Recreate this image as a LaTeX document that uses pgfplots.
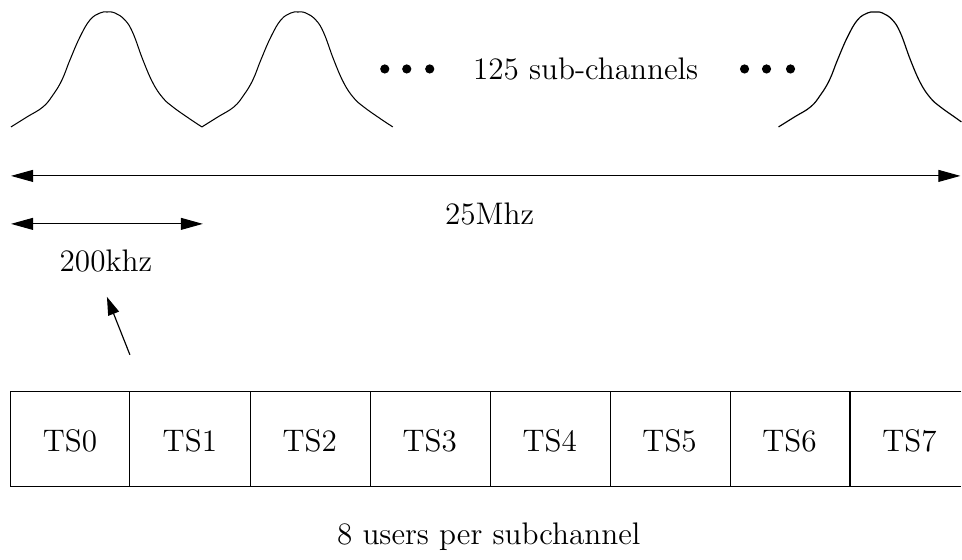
\documentclass[border=0pt]{standalone}
\usepackage{pgfplots}
\pgfplotsset{compat=1.18}
\usetikzlibrary{arrows.meta}
\begin{document}
\begin{tikzpicture}
\begin{axis}[
  scale only axis, width=370pt, height=213.08pt,
  xmin=0, xmax=962, ymin=0, ymax=554, y dir=reverse,
  axis lines=none, clip=false,
  cycle list={{black,solid,mark=none,line width=0.45pt}},
]
\addplot[draw=none] coordinates {(0,0) (962,554)};
% bumps
\addplot+[smooth, tension=0.7] coordinates {(11,127)(27,117)(43,107)(53,95)(62,80)(70,60)(80,37)(90,20)(100,13)(107,12)(115,13)(125,20)(133,33)(143,60)(153,83)(163,98)(173,107)(187,117)(202,127)};
\addplot+[smooth, tension=0.7] coordinates {(202,127)(218,117)(234,107)(244,95)(253,80)(261,60)(271,37)(281,20)(291,13)(298,12)(306,13)(316,20)(324,33)(334,60)(344,83)(354,98)(364,107)(378,117)(393,127)};
\addplot+[smooth, tension=0.7] coordinates {(779,127)(795,117)(811,107)(821,95)(830,80)(838,60)(848,37)(858,20)(868,13)(875,12)(883,13)(893,20)(901,33)(911,60)(921,83)(931,98)(941,107)(955,117)(962,122)};
% dots
\addplot+[only marks, mark=*, mark size=1.55pt, fill=black] coordinates {(385,69)(407,69)(430,69)(745,69)(767,69)(791,69)};
% arrows
\addplot+[{Triangle[length=8.5pt,width=4.6pt]}-{Triangle[length=8.5pt,width=4.6pt]}] coordinates {(11,176)(961,176)};
\addplot+[{Triangle[length=8.5pt,width=4.6pt]}-{Triangle[length=8.5pt,width=4.6pt]}] coordinates {(11,224)(203,224)};
\addplot+[-{Triangle[length=7pt,width=4.4pt]}] coordinates {(130,355)(107,297)};
% time slot boxes
\addplot+[] coordinates {(962,392)(10.5,392)(10.5,487)(962,487)};
\addplot+[] coordinates {(130,392)(130,487)};
\addplot+[] coordinates {(250.5,392)(250.5,487)};
\addplot+[] coordinates {(370.5,392)(370.5,487)};
\addplot+[] coordinates {(490.5,392)(490.5,487)};
\addplot+[] coordinates {(610.5,392)(610.5,487)};
\addplot+[] coordinates {(730.5,392)(730.5,487)};
\addplot+[] coordinates {(850.5,392)(850.5,487)};
% texts
\node[anchor=base, font=\large] at (axis cs:586,80) {125 sub-channels};
\node[anchor=base, font=\large] at (axis cs:490,225) {25Mhz};
\node[anchor=base, font=\large] at (axis cs:106,272) {200khz};
\node[anchor=base, font=\large] at (axis cs:70,452) {TS0};
\node[anchor=base, font=\large] at (axis cs:190,452) {TS1};
\node[anchor=base, font=\large] at (axis cs:310,452) {TS2};
\node[anchor=base, font=\large] at (axis cs:430,452) {TS3};
\node[anchor=base, font=\large] at (axis cs:550,452) {TS4};
\node[anchor=base, font=\large] at (axis cs:670,452) {TS5};
\node[anchor=base, font=\large] at (axis cs:790,452) {TS6};
\node[anchor=base, font=\large] at (axis cs:910,452) {TS7};
\node[anchor=base, font=\large] at (axis cs:489,545) {8 users per subchannel};
\end{axis}
\end{tikzpicture}
\end{document}
